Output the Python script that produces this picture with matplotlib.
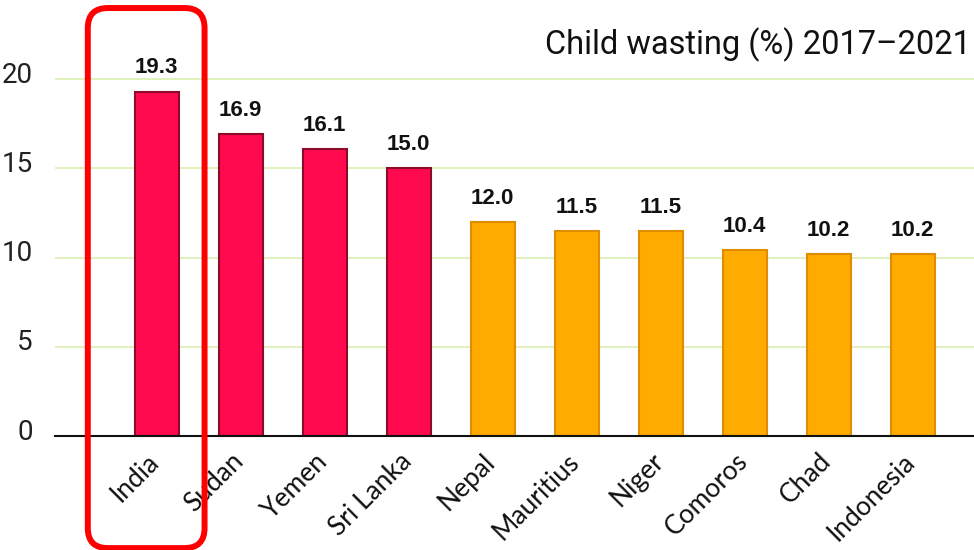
import numpy as np
import matplotlib.pyplot as plt
from matplotlib.patches import FancyBboxPatch
from matplotlib.transforms import IdentityTransform, ScaledTranslation

# data
countries = ["India", "Sudan", "Yemen", "Sri Lanka", "Nepal",
             "Mauritius", "Niger", "Comoros", "Chad", "Indonesia"]
wasting = [19.3, 16.9, 16.1, 15.0, 12.0, 11.5, 11.5, 10.4, 10.2, 10.2]
is_high = [True, True, True, True, False, False, False, False, False, False]
y_ticks = [0, 5, 10, 15, 20]
title = "Child wasting (%) 2017\u20132021"

red_fill, red_edge = "#ff0a4f", "#8c0a2a"
orange_fill, orange_edge = "#ffab00", "#e08c00"

fig = plt.figure(figsize=(9.74, 5.5), dpi=100)
ax = fig.add_axes([0.0565, 0.207, 0.9435, 0.793])

x = np.arange(len(countries))
fills = [red_fill if h else orange_fill for h in is_high]
edges = [red_edge if h else orange_edge for h in is_high]
ax.bar(x, wasting, width=0.52, color=fills, edgecolor=edges, linewidth=1.5, zorder=3)

for xi, v in zip(x, wasting):
    ax.annotate(f"{v:.1f}", (xi, v), xytext=(0, 9.5), textcoords="offset points",
                ha="center", va="bottom", fontsize=16, fontweight="bold",
                family="Liberation Sans", color="#111111")

ax.set_xlim(-1.21, 9.73)
ax.set_ylim(0, 24.43)
ax.set_yticks(y_ticks)
ax.yaxis.grid(True, color="#dcf0b8", linewidth=1.3, zorder=0)
ax.set_axisbelow(True)
ax.tick_params(axis="y", length=0, pad=16, labelsize=20)
ax.tick_params(axis="x", length=0, pad=9)
for lab in ax.get_yticklabels():
    lab.set_family("Roboto")
    lab.set_color("#222222")
    lab.set_transform(lab.get_transform() + ScaledTranslation(0, 7 / 100, fig.dpi_scale_trans))

ax.set_xticks(x)
ax.set_xticklabels(countries, rotation=45, ha="right", va="top",
                   rotation_mode="anchor", fontsize=19, family="Lato", color="#111111")
for lab in ax.get_xticklabels():
    lab.set_transform(lab.get_transform() + ScaledTranslation(-10 / 100, 0, fig.dpi_scale_trans))

for s in ["top", "right", "left"]:
    ax.spines[s].set_visible(False)
ax.spines["bottom"].set_color("#111111")
ax.spines["bottom"].set_linewidth(1.5)
ax.spines["bottom"].set_zorder(4)

fig.text(0.997, 0.918, title, ha="right", va="center", fontsize=23.5,
         family="Roboto", color="#111111")

# highlight box around the first country
fig.canvas.draw()
x0, y0 = ax.transData.transform((x[0] - 0.82, -6.27))
x1, y1 = ax.transData.transform((x[0] + 0.57, 23.98))
box = FancyBboxPatch((x0, y0), x1 - x0, y1 - y0,
                     boxstyle="round,pad=0,rounding_size=20",
                     transform=IdentityTransform(), fill=False,
                     edgecolor="#ff0000", linewidth=4.3, zorder=10)
fig.patches.append(box)

fig.savefig("out.png", dpi=100)
